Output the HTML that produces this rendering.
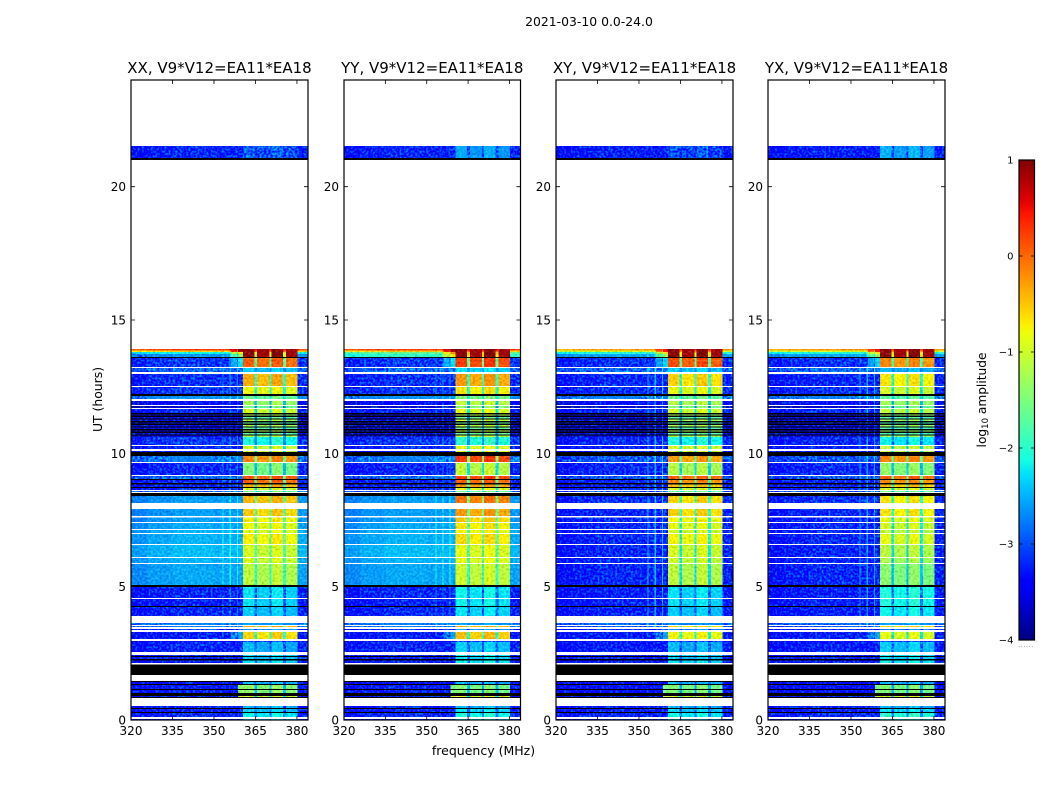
<!DOCTYPE html>
<html lang="en">
<head>
<meta charset="utf-8">
<title>2021-03-10 0.0-24.0</title>
<style>
html,body{margin:0;padding:0;background:#fff;}
svg{display:block;}
text{font-family:"DejaVu Sans","Liberation Sans",sans-serif;fill:#000;}
</style>
</head>
<body>
<svg id="figure" xmlns="http://www.w3.org/2000/svg" width="1050" height="800" viewBox="0 0 1050 800">
  <defs id="defs">
    <linearGradient id="jet-gradient" x1="0" y1="1" x2="0" y2="0"></linearGradient>
  </defs>
  <text x="589" y="26" font-size="12.4" text-anchor="middle">2021-03-10 0.0-24.0</text>
  <text x="483.5" y="755" font-size="12.5" text-anchor="middle">frequency (MHz)</text>
  <text transform="translate(102,399.5) rotate(-90)" font-size="12.4" text-anchor="middle">UT (hours)</text>
  <text transform="translate(986,400) rotate(-90)" font-size="12.2" text-anchor="middle">log<tspan font-size="8.5" dy="2">10</tspan><tspan dy="-2"> amplitude</tspan></text>
  <g id="panels"></g>
  <g id="colorbar"></g>
</svg>
<script>
const N = null;  // flagged, no data (white)
const K = -9;    // zero amplitude, below colour range (black)

const panelTitles = ["XX, V9*V12=EA11*EA18", "YY, V9*V12=EA11*EA18", "XY, V9*V12=EA11*EA18", "YX, V9*V12=EA11*EA18"];
const freqTicks = [320, 335, 350, 365, 380];
const utTicks = [0, 5, 10, 15, 20];
const colorTicks = [-4, -3, -2, -1, 0, 1];

// UT row boundaries in hours, top to bottom
const utEdges = [
 21.525,21.075,21.000,13.913,13.856,13.800,13.725,13.613,13.575,13.238,
 13.200,13.050,12.975,12.525,12.488,12.225,12.150,12.038,11.963,11.813,
 11.775,11.700,11.663,11.513,11.46,11.41,11.36,11.31,11.26,11.21,
 11.16,11.11,11.06,11.01,10.96,10.91,10.86,10.81,10.76,10.71,
 10.66,10.613,10.313,10.275,10.163,10.088,10.050,9.900,9.675,9.638,
 9.188,9.150,9.038,9.000,8.888,8.831,8.738,8.700,8.625,8.588,
 8.550,8.513,8.400,8.138,7.913,7.650,7.594,7.425,7.388,7.163,
 7.125,7.013,6.975,6.600,6.563,6.113,6.075,5.888,5.850,5.063,
 4.988,4.575,4.538,4.275,4.238,3.900,3.638,3.563,3.525,3.488,
 3.413,3.375,3.300,3.038,2.963,2.925,2.550,2.438,2.400,2.363,
 2.288,2.231,2.138,2.081,1.688,1.463,1.425,1.350,1.313,1.163,
 1.125,1.013,0.900,0.863,0.825,0.525,0.450,0.413,0.300,0.263,
 0.113,0.038,0
];

// Off-band background level (log10 amplitude) per row: parallel hands XX, YY
const backgroundParallel = [
 -3.25,K,N,0.2,-0.6,-2.2,-2.7,K,-3.15,N,
 -2.9,N,-3.2,N,-3.15,K,-2.7,N,-3.5,N,
 -3.7,N,-3.25,K,-3.6,K,-3.6,K,-3.6,K,
 -3.6,K,-3.6,K,-3.6,K,-3.6,K,-3.6,K,
 -3.6,-3.15,N,-3.25,N,-3.4,K,-2.8,N,-3.25,
 N,-2.9,K,-3.25,K,-3.25,K,-3.25,N,-2.9,
 N,K,-2.65,N,-2.65,N,-2.65,N,-2.6,N,
 -2.55,N,-2.55,N,-2.5,N,-2.55,N,-2.6,K,
 -3.25,N,-3.3,K,-3.25,N,-2.8,N,-2.8,N,
 -3.25,N,-3.3,N,-3.5,-3.25,N,-3.25,K,-3.25,
 K,-3.3,N,K,N,K,-3.4,K,-3.3,K,
 -3.3,K,-3.3,K,N,-3.3,K,-3.3,K,-3.25,
 N,-3.25
];
// Off-band background level per row: cross hands XY, YX
const backgroundCross = [
 -3.3,K,N,-0.3,-1.0,-2.1,-2.6,K,-3.2,N,
 -2.9,N,-3.25,N,-3.2,K,-2.8,N,-3.5,N,
 -3.7,N,-3.25,K,-3.6,K,-3.6,K,-3.6,K,
 -3.6,K,-3.6,K,-3.6,K,-3.6,K,-3.6,K,
 -3.6,-3.25,N,-3.3,N,-3.4,K,-3.0,N,-3.25,
 N,-3.0,K,-3.25,K,-3.25,K,-3.25,N,-3.0,
 N,K,-3.2,N,-3.25,N,-3.25,N,-3.25,N,
 -3.25,N,-3.25,N,-3.25,N,-3.25,N,-3.25,K,
 -3.3,N,-3.3,K,-3.3,N,-2.9,N,-3.0,N,
 -3.25,N,-3.3,N,-3.5,-3.3,N,-3.25,K,-3.3,
 K,-3.3,N,K,N,K,-3.4,K,-3.4,K,
 -3.4,K,-3.3,K,N,-3.3,K,-3.3,K,-3.25,
 N,-3.25
];

// In-band level per row for each polarisation
const bandXX = [
 -2.95,K,N,0.95,0.9,0.9,0.9,K,0.0,N,
 -2.4,N,-0.4,N,-0.85,K,-1.6,N,-1.3,N,
 -1.6,N,-1.0,K,-1.2,K,-1.7,K,-1.2,K,
 -1.7,K,-1.2,K,-1.7,K,-1.2,K,-1.7,K,
 -1.2,-2.1,N,-1.0,N,-1.0,K,-0.2,N,-1.5,
 N,0.1,K,0.0,K,-0.4,K,-1.0,N,-1.6,
 N,K,-0.45,N,-0.55,N,-0.75,N,-0.85,N,
 -0.9,N,-0.75,N,-1.0,N,-1.0,N,-1.15,K,
 -2.3,N,-2.3,K,-2.4,N,-2.6,N,-0.4,N,
 -2.6,N,-0.6,N,-3.0,-2.5,N,-2.3,K,-2.4,
 K,-2.3,N,K,N,K,-2.5,K,-1.4,K,
 -1.4,K,-1.0,K,N,-2.5,K,-2.4,K,-2.2,
 N,-2.3
];
const bandYY = [
 -2.6,K,N,0.95,0.9,0.9,0.9,K,0.2,N,
 -2.3,N,-0.3,N,-0.7,K,-1.5,N,-1.1,N,
 -1.4,N,-0.9,K,-1.1,K,-1.6,K,-1.1,K,
 -1.6,K,-1.1,K,-1.6,K,-1.1,K,-1.6,K,
 -1.1,-2.0,N,-0.9,N,-0.9,K,0.2,N,-1.1,
 N,0.2,K,0.0,K,-0.3,K,-0.9,N,-1.6,
 N,K,-0.1,N,-0.3,N,-0.55,N,-0.7,N,
 -0.8,N,-0.65,N,-0.9,N,-0.9,N,-1.05,K,
 -2.2,N,-2.2,K,-2.3,N,-2.6,N,-0.4,N,
 -2.6,N,-0.5,N,-3.0,-2.4,N,-2.2,K,-2.3,
 K,-2.2,N,K,N,K,-2.5,K,-1.5,K,
 -1.5,K,-0.9,K,N,-2.5,K,-2.3,K,-2.1,
 N,-2.2
];
const bandXY = [
 -3.0,K,N,0.95,0.9,0.9,0.9,K,0.1,N,
 -2.4,N,-0.6,N,-0.9,K,-1.6,N,-1.2,N,
 -1.5,N,-1.0,K,-1.2,K,-1.7,K,-1.2,K,
 -1.7,K,-1.2,K,-1.7,K,-1.2,K,-1.7,K,
 -1.2,-2.1,N,-1.0,N,-1.0,K,-0.3,N,-1.2,
 N,0.0,K,-0.2,K,-0.5,K,-1.0,N,-1.6,
 N,K,-0.6,N,-0.6,N,-0.8,N,-0.9,N,
 -1.0,N,-0.8,N,-1.0,N,-1.05,N,-1.15,K,
 -2.3,N,-2.3,K,-2.4,N,-2.7,N,-0.6,N,
 -2.7,N,-0.8,N,-3.0,-2.5,N,-2.3,K,-2.4,
 K,-2.3,N,K,N,K,-2.5,K,-1.5,K,
 -1.5,K,-1.0,K,N,-2.5,K,-2.4,K,-2.2,
 N,-2.3
];
const bandYX = [
 -2.55,K,N,0.95,0.9,0.9,0.9,K,-0.2,N,
 -2.5,N,-0.7,N,-1.0,K,-1.7,N,-1.3,N,
 -1.6,N,-1.1,K,-1.3,K,-1.8,K,-1.3,K,
 -1.8,K,-1.3,K,-1.8,K,-1.3,K,-1.8,K,
 -1.3,-2.2,N,-1.1,N,-1.1,K,-0.2,N,-1.4,
 N,0.0,K,-0.2,K,-0.5,K,-1.0,N,-1.6,
 N,K,-0.7,N,-0.7,N,-0.9,N,-1.0,N,
 -1.1,N,-0.9,N,-1.15,N,-1.25,N,-1.45,K,
 -2.1,N,-2.1,K,-2.2,N,-2.6,N,-0.6,N,
 -2.7,N,-0.9,N,-3.0,-2.4,N,-2.2,K,-2.3,
 K,-2.2,N,K,N,K,-2.5,K,-1.5,K,
 -1.5,K,-1.0,K,N,-2.5,K,-2.3,K,-2.0,
 N,-2.2
];

const panelBackground = [backgroundParallel, backgroundParallel, backgroundCross, backgroundCross];
const panelBand = [bandXX, bandYY, bandXY, bandYX];

// Frequency structure (MHz): each channel group's kind and level offset
const channelEdges = [320,326,335,350,353.1,353.5,355.7,356.1,358.3,358.7,360.5,364.6,365.6,370,370.8,375,376,380.2,384];
const channelKinds = ["bg","bg","bg","bg","rfi","bg","rfi","sh","rfi","flare","band","gap","band","gap","band","gap","band","bg"];
const channelOffsets = [-0.1,0,0.06,0.03,0,0.03,0,0.03,0,0.05,0.05,0,-0.05,0,0.08,0,-0.05,0.03];

// Rows where the shoulder below the band is raised
const shoulderUt = [13.88, 13.83, 13.76, 13.65, 13.4, 3.15];
const shoulderBoost = [0.5, 1.0, 1.0, 0.9, 0.6, 0.5];
// Rows where band power spills to the band edge
const flareUt = [1.2, 1.07, 0.88];
// Interference channels stay visible between these UT limits
const rfiUtRange = [3.5, 13.3];
const rfiBoost = [0.45, 0.5, 0.8, 0.7];
// YY top rows run brighter off-band than XX
const yyBrightUt = [13.76, 13.65];
const yyBrightLevel = [-1.7, -2.0];

const panelLefts = [131, 344, 556, 768];
const panelRights = [308, 520.5, 733, 945];
const plotTop = 80, plotBottom = 720;
const SVGNS = "http://www.w3.org/2000/svg";

function yScale(ut) { return plotBottom - ut * (plotBottom - plotTop) / 24; }
function xScale(p, f) { return panelLefts[p] + (f - 320) * (panelRights[p] - panelLefts[p]) / 64; }
function cScale(v) { return 640 - (v + 4) * 480 / 5; }

function interp(x, pts) {
  for (let i = 1; i < pts.length; i++) {
    if (x <= pts[i][0]) {
      const a = pts[i - 1], b = pts[i];
      return a[1] + (b[1] - a[1]) * (x - a[0]) / (b[0] - a[0]);
    }
  }
  return pts[pts.length - 1][1];
}
function jetFrac(t) {
  t = Math.max(0, Math.min(1, t));
  const r = interp(t, [[0,0],[0.35,0],[0.66,1],[0.89,1],[1,0.5]]);
  const g = interp(t, [[0,0],[0.125,0],[0.375,1],[0.64,1],[0.91,0],[1,0]]);
  const b = interp(t, [[0,0.5],[0.11,1],[0.34,1],[0.65,0],[1,0]]);
  return "rgb(" + Math.round(r * 255) + "," + Math.round(g * 255) + "," + Math.round(b * 255) + ")";
}
function jet(v) { return jetFrac((v + 4) / 5); }

function make(tag, attrs, parent, txt) {
  const e = document.createElementNS(SVGNS, tag);
  for (const k in attrs) e.setAttribute(k, attrs[k]);
  if (txt !== undefined) e.textContent = txt;
  parent.appendChild(e);
  return e;
}
function rowForUt(ut) {
  for (let i = 0; i < utEdges.length - 1; i++) {
    if (ut <= utEdges[i] && ut > utEdges[i + 1]) return i;
  }
  return -1;
}

const shoulderByRow = {};
shoulderUt.forEach(function (u, i) { shoulderByRow[rowForUt(u)] = shoulderBoost[i]; });
const flareByRow = {};
flareUt.forEach(function (u) { flareByRow[rowForUt(u)] = true; });
const yyBrightByRow = {};
yyBrightUt.forEach(function (u, i) { yyBrightByRow[rowForUt(u)] = yyBrightLevel[i]; });

function rowBackground(p, row) {
  if (p === 1 && yyBrightByRow[row] !== undefined) return yyBrightByRow[row];
  return panelBackground[p][row];
}
function cellLevel(p, row, c) {
  const bg = rowBackground(p, row), band = panelBand[p][row], kind = channelKinds[c], off = channelOffsets[c];
  const sh = shoulderByRow[row] || 0;
  if (kind === "band") return band + off;
  if (kind === "gap") return band - 0.55 * (band - bg);
  if (kind === "sh") return bg + off + sh;
  if (kind === "flare") return flareByRow[row] ? band : bg + off + sh * 1.4;
  const ut = utEdges[row];
  if (kind === "rfi") return (ut <= rfiUtRange[1] && ut >= rfiUtRange[0]) ? bg + rfiBoost[p] : bg + sh * 0.5;
  return bg + off;
}

// Texture filters: speckle on noisy background cells, softer mottling elsewhere
const defsEl = document.getElementById("defs");
function addNoiseFilter(id, seed, matrix, k3) {
  const f = make("filter", { id: id, filterUnits: "userSpaceOnUse", x: 0, y: 0, width: 1050, height: 800, "color-interpolation-filters": "sRGB" }, defsEl);
  make("feTurbulence", { type: "fractalNoise", baseFrequency: "0.45", numOctaves: 1, seed: seed, result: "t" }, f);
  make("feColorMatrix", { in: "t", type: "matrix", values: matrix, result: "n" }, f);
  make("feComposite", { in: "SourceGraphic", in2: "n", operator: "arithmetic", k1: 0, k2: 1, k3: k3, k4: -k3 / 2, result: "m" }, f);
  make("feComposite", { in: "m", in2: "SourceAlpha", operator: "in" }, f);
}
const speckleMatrix = "0 0 0 0 0.5  2.2 0 0 0 -0.6  0 0 0 0 0.5  0 0 0 0 1";
const mottleMatrix = "1.6 0 0 0 -0.3  1.6 0 0 0 -0.3  1.6 0 0 0 -0.3  0 0 0 0 1";
panelTitles.forEach(function (t, p) {
  addNoiseFilter("speckle-" + p, 3 + p * 7, speckleMatrix, 0.75);
  addNoiseFilter("mottle-" + p, 5 + p * 9, mottleMatrix, 0.3);
});

const panelsRoot = document.getElementById("panels");

panelTitles.forEach(function (title, p) {
  const g = make("g", {}, panelsRoot);
  
  

  const mottled = make("g", { filter: "url(#mottle-" + p + ")", "shape-rendering": "crispEdges" }, g);
  
  
  const speckled = make("g", { filter: "url(#speckle-" + p + ")", "shape-rendering": "crispEdges" }, g);
  
  
  const zero = make("g", { "shape-rendering": "crispEdges" }, g);
  
  

  for (let r = 0; r < utEdges.length - 1; r++) {
    const bg = panelBackground[p][r];
    if (bg === N) continue;
    const y0 = yScale(utEdges[r]), y1 = yScale(utEdges[r + 1]);
    if (bg === K) {
      const row = make("rect", { x: xScale(p, 320), y: y0, width: xScale(p, 384) - xScale(p, 320), height: y1 - y0, fill: "#000" }, zero);
      
      
      continue;
    }
    for (let c = 0; c < channelKinds.length; c++) {
      const x0 = xScale(p, channelEdges[c]), x1 = xScale(p, channelEdges[c + 1]);
      const level = cellLevel(p, r, c);
      const target = (level < -2.75) ? speckled : mottled;
      const cell = make("rect", { x: x0, y: y0, width: x1 - x0, height: y1 - y0, fill: jet(level) }, target);
      
      
    }
  }

  const L = panelLefts[p], R = panelRights[p];
  const frame = make("rect", { x: L, y: plotTop, width: R - L, height: plotBottom - plotTop, fill: "none", stroke: "#000", "stroke-width": 1.2 }, g);
  
  

  const tt = make("text", { x: (L + R) / 2, y: 73, "font-size": 15, "text-anchor": "middle" }, g, title);
  
  

  freqTicks.forEach(function (f) {
    const x = xScale(p, f);
    const d = "M" + x + " " + plotBottom + "v-4M" + x + " " + plotTop + "v4";
    const tick = make("path", { d: d, stroke: "#000", "stroke-width": 0.8, fill: "none" }, g);
    
    
    const lab = make("text", { x: x, y: 735, "font-size": 12, "text-anchor": "middle" }, g, String(f));
    
    
  });
  utTicks.forEach(function (u) {
    const y = yScale(u);
    const d = "M" + L + " " + y + "h4M" + R + " " + y + "h-4";
    const tick = make("path", { d: d, stroke: "#000", "stroke-width": 0.8, fill: "none" }, g);
    
    
    const lab = make("text", { x: L - 5, y: y + 4.5, "font-size": 12, "text-anchor": "end" }, g, String(u));
    
    
  });
});

// Colour bar
const grad = document.getElementById("jet-gradient");
for (let i = 0; i <= 64; i++) {
  make("stop", { offset: (i / 64), "stop-color": jetFrac(i / 64) }, grad);
}
const cb = document.getElementById("colorbar");
const cbBar = make("rect", { x: 1019, y: 160, width: 15.5, height: 480, fill: "url(#jet-gradient)", stroke: "#000", "stroke-width": 1.2 }, cb);


colorTicks.forEach(function (v) {
  const y = cScale(v);
  const d = "M1019 " + y + "h3.5M1034.5 " + y + "h-3.5";
  const tick = make("path", { d: d, stroke: "#000", "stroke-width": 0.8, fill: "none" }, cb);
  
  
  const lab = make("text", { x: 1013.5, y: y + 3.5, "font-size": 10, "text-anchor": "end" }, cb, String(v).replace("-", "\u2212"));
  
  
});
const cbDots = make("text", { x: 1018, y: 647, "font-size": 7, "letter-spacing": "0.4" }, cb, "......");


cbDots.style.fill = "#888";
</script>
</body>
</html>
